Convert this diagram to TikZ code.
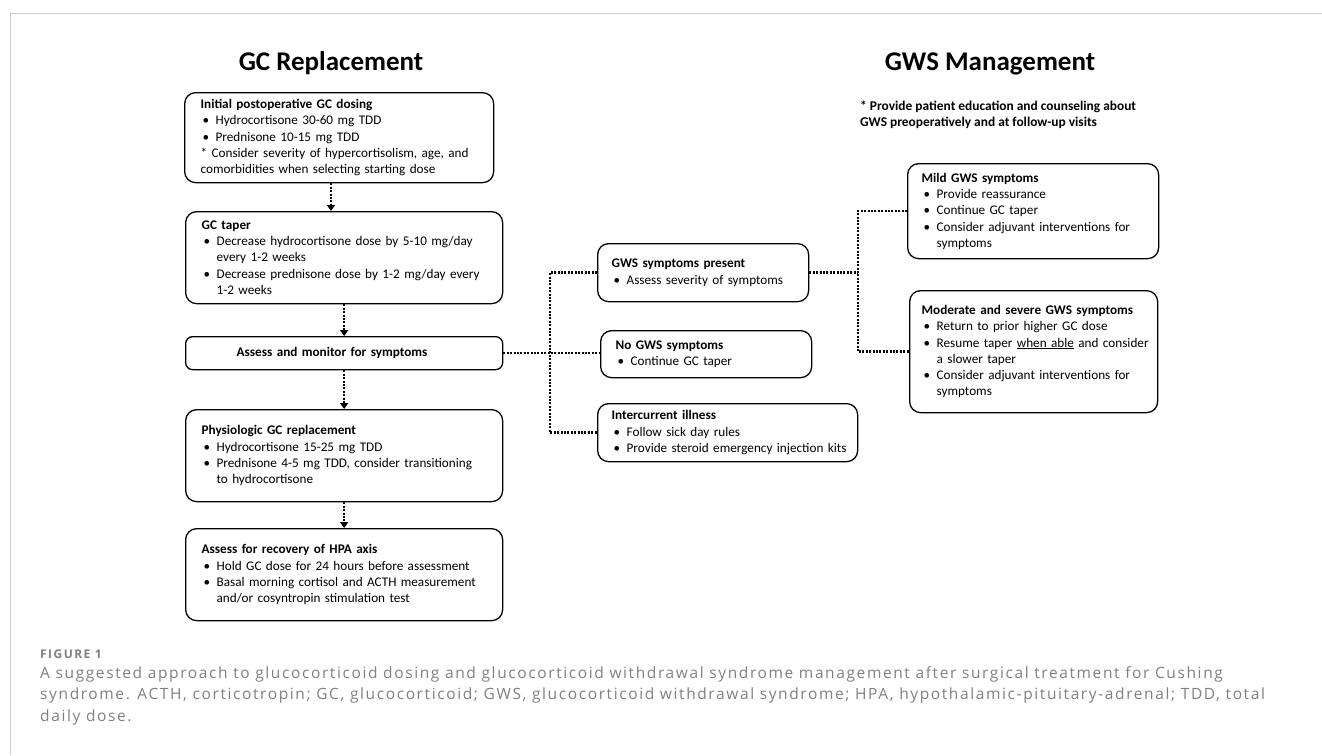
\documentclass[tikz,border=0pt]{standalone}
\usepackage{fontspec}
\setmainfont{Carlito}
\newfontfamily\capfont[LetterSpace=10.4]{Open Sans}
\newfontfamily\figfont[LetterSpace=12]{Open Sans}
\usetikzlibrary{arrows.meta}

\definecolor{framegray}{RGB}{204,204,204}
\definecolor{capgray}{RGB}{128,128,128}

% voce di elenco con rientro sospeso
\newcommand{\itm}[1]{\par\noindent\hangindent=15pt\hangafter=1\makebox[15pt][l]{\hspace{2pt}\textbullet}#1}

\tikzset{
  box/.style={draw, line width=1.3pt, rounded corners=11pt, anchor=north west, align=left,
    inner xsep=16pt, inner ysep=0pt, font=\fontsize{13.2}{16.3}\selectfont,
    execute at begin node={\hyphenpenalty=10000\exhyphenpenalty=10000\hbadness=10000\hfuzz=20pt}},
  flowline/.style={line width=2.4pt, dash pattern=on 2pt off 1.4pt},
  flowarrow/.style={flowline, -{Triangle[width=8pt,length=6pt]}},
  heading/.style={anchor=base, font=\bfseries\fontsize{27}{31}\selectfont}
}

\begin{document}
\begin{tikzpicture}[x=1pt,y=-1pt]
    \useasboundingbox (0,0) rectangle (1322,755);

    % Cornice
    \draw[framegray, line width=1pt] (10,755) -- (10,13) -- (1322,13);

    % Titoli
    \node[heading] (gctitle) at (331,70) {GC Replacement};
    \node[heading] (gwstitle) at (990,70) {GWS Management};
    \node[anchor=north west, align=left, inner sep=0pt, font=\bfseries\fontsize{13.4}{16}\selectfont] (edu) at (860,101)
        {* Provide patient education and counseling about\\GWS preoperatively and at follow-up visits};

    % Colonna sinistra
    \node[box, text width=277pt, minimum height=90pt] (init) at (184,92)
        {\textbf{Initial postoperative GC dosing}\itm{Hydrocortisone 30-60 mg TDD}\itm{Prednisone 10-15 mg TDD}\par\noindent
         * Consider severity of hypercortisolism, age, and\newline comorbidities when selecting starting dose\par};
    \node[box, text width=285pt, minimum height=92pt] (taper) at (185,211)
        {\textbf{GC taper}\itm{Decrease hydrocortisone dose by 5-10 mg/day\newline every 1-2 weeks}\itm{Decrease prednisone dose by 1-2 mg/day every\newline 1-2 weeks}\par};
    \node[box, text width=285pt, minimum height=33pt, rounded corners=7pt] (assess) at (185,336)
        {\hspace*{35pt}\textbf{Assess and monitor for symptoms}};
    \node[box, text width=285pt, minimum height=92pt] (physio) at (185,409)
        {\textbf{Physiologic GC replacement}\itm{Hydrocortisone 15-25 mg TDD}\itm{Prednisone 4-5 mg TDD, consider transitioning\newline to hydrocortisone}\par};
    \node[box, text width=285pt, minimum height=92pt] (hpa) at (185,528)
        {\textbf{Assess for recovery of HPA axis}\itm{Hold GC dose for 24 hours before assessment}\itm{Basal morning cortisol and ACTH measurement\newline and/or cosyntropin stimulation test}\par};

    % Colonna centrale
    \node[box, text width=183pt, minimum height=58pt, inner xsep=14pt] (present) at (597,243)
        {\textbf{GWS symptoms present}\itm{Assess severity of symptoms}\par};
    \node[box, text width=181pt, minimum height=47pt, inner xsep=15pt] (nogws) at (600,330)
        {\textbf{No GWS symptoms}\itm{Continue GC taper}\par};
    \node[box, text width=232pt, minimum height=58pt, inner xsep=14pt] (illness) at (597,403)
        {\textbf{Intercurrent illness}\itm{Follow sick day rules}\itm{\mbox{Provide steroid emergency injection kits}}\par};

    % Colonna destra
    \node[box, text width=223pt, minimum height=95pt, inner xsep=14pt] (mild) at (907,163)
        {\textbf{Mild GWS symptoms}\itm{Provide reassurance}\itm{Continue GC taper}\itm{Consider adjuvant interventions for\newline symptoms}\par};
    \node[box, text width=224pt, minimum height=122pt, inner xsep=12pt] (severe) at (909,290)
        {\textbf{Moderate and severe GWS symptoms}\itm{Return to prior higher GC dose}\itm{\mbox{Resume taper \underline{when able} and consider}\newline a slower taper}\itm{Consider adjuvant interventions for\newline symptoms}\par};

    % Frecce verticali
    \draw[flowarrow] (gctitle |- init.south) -- (gctitle |- taper.north);
    \draw[flowarrow] (taper.south) -- (assess.north);
    \draw[flowarrow] (assess.south) -- (physio.north);
    \draw[flowarrow] (physio.south) -- (hpa.north);

    % Collegamenti tratteggiati
    \coordinate (bus) at (550,351);
    \coordinate (bus2) at (858,272);
    \draw[flowline] (assess.east) -- (nogws.west |- assess.east);
    \draw[flowline] (present.west) -- (present.west -| bus) -- (illness.west -| bus) -- (illness.west);
    \draw[flowline] (present.east) -- (present.east -| bus2);
    \draw[flowline] (mild.west) -- (mild.west -| bus2) -- (severe.west -| bus2) -- (severe.west);

    % Didascalia
    \node[anchor=base west, inner sep=0pt, text=capgray, font=\figfont\bfseries\fontsize{12}{14}\selectfont] (fig) at (40,658) {FIGURE 1};
    \node[anchor=north west, align=left, inner sep=0pt, text=capgray, font=\capfont\fontsize{15.5}{21.6}\selectfont] (cap) at (40,666)
        {A suggested approach to glucocorticoid dosing and glucocorticoid withdrawal syndrome management after surgical treatment for Cushing\\
         syndrome. ACTH, corticotropin; GC, glucocorticoid; GWS, glucocorticoid withdrawal syndrome; HPA, hypothalamic-pituitary-adrenal; TDD, total\\
         daily dose.};
\end{tikzpicture}
\end{document}
